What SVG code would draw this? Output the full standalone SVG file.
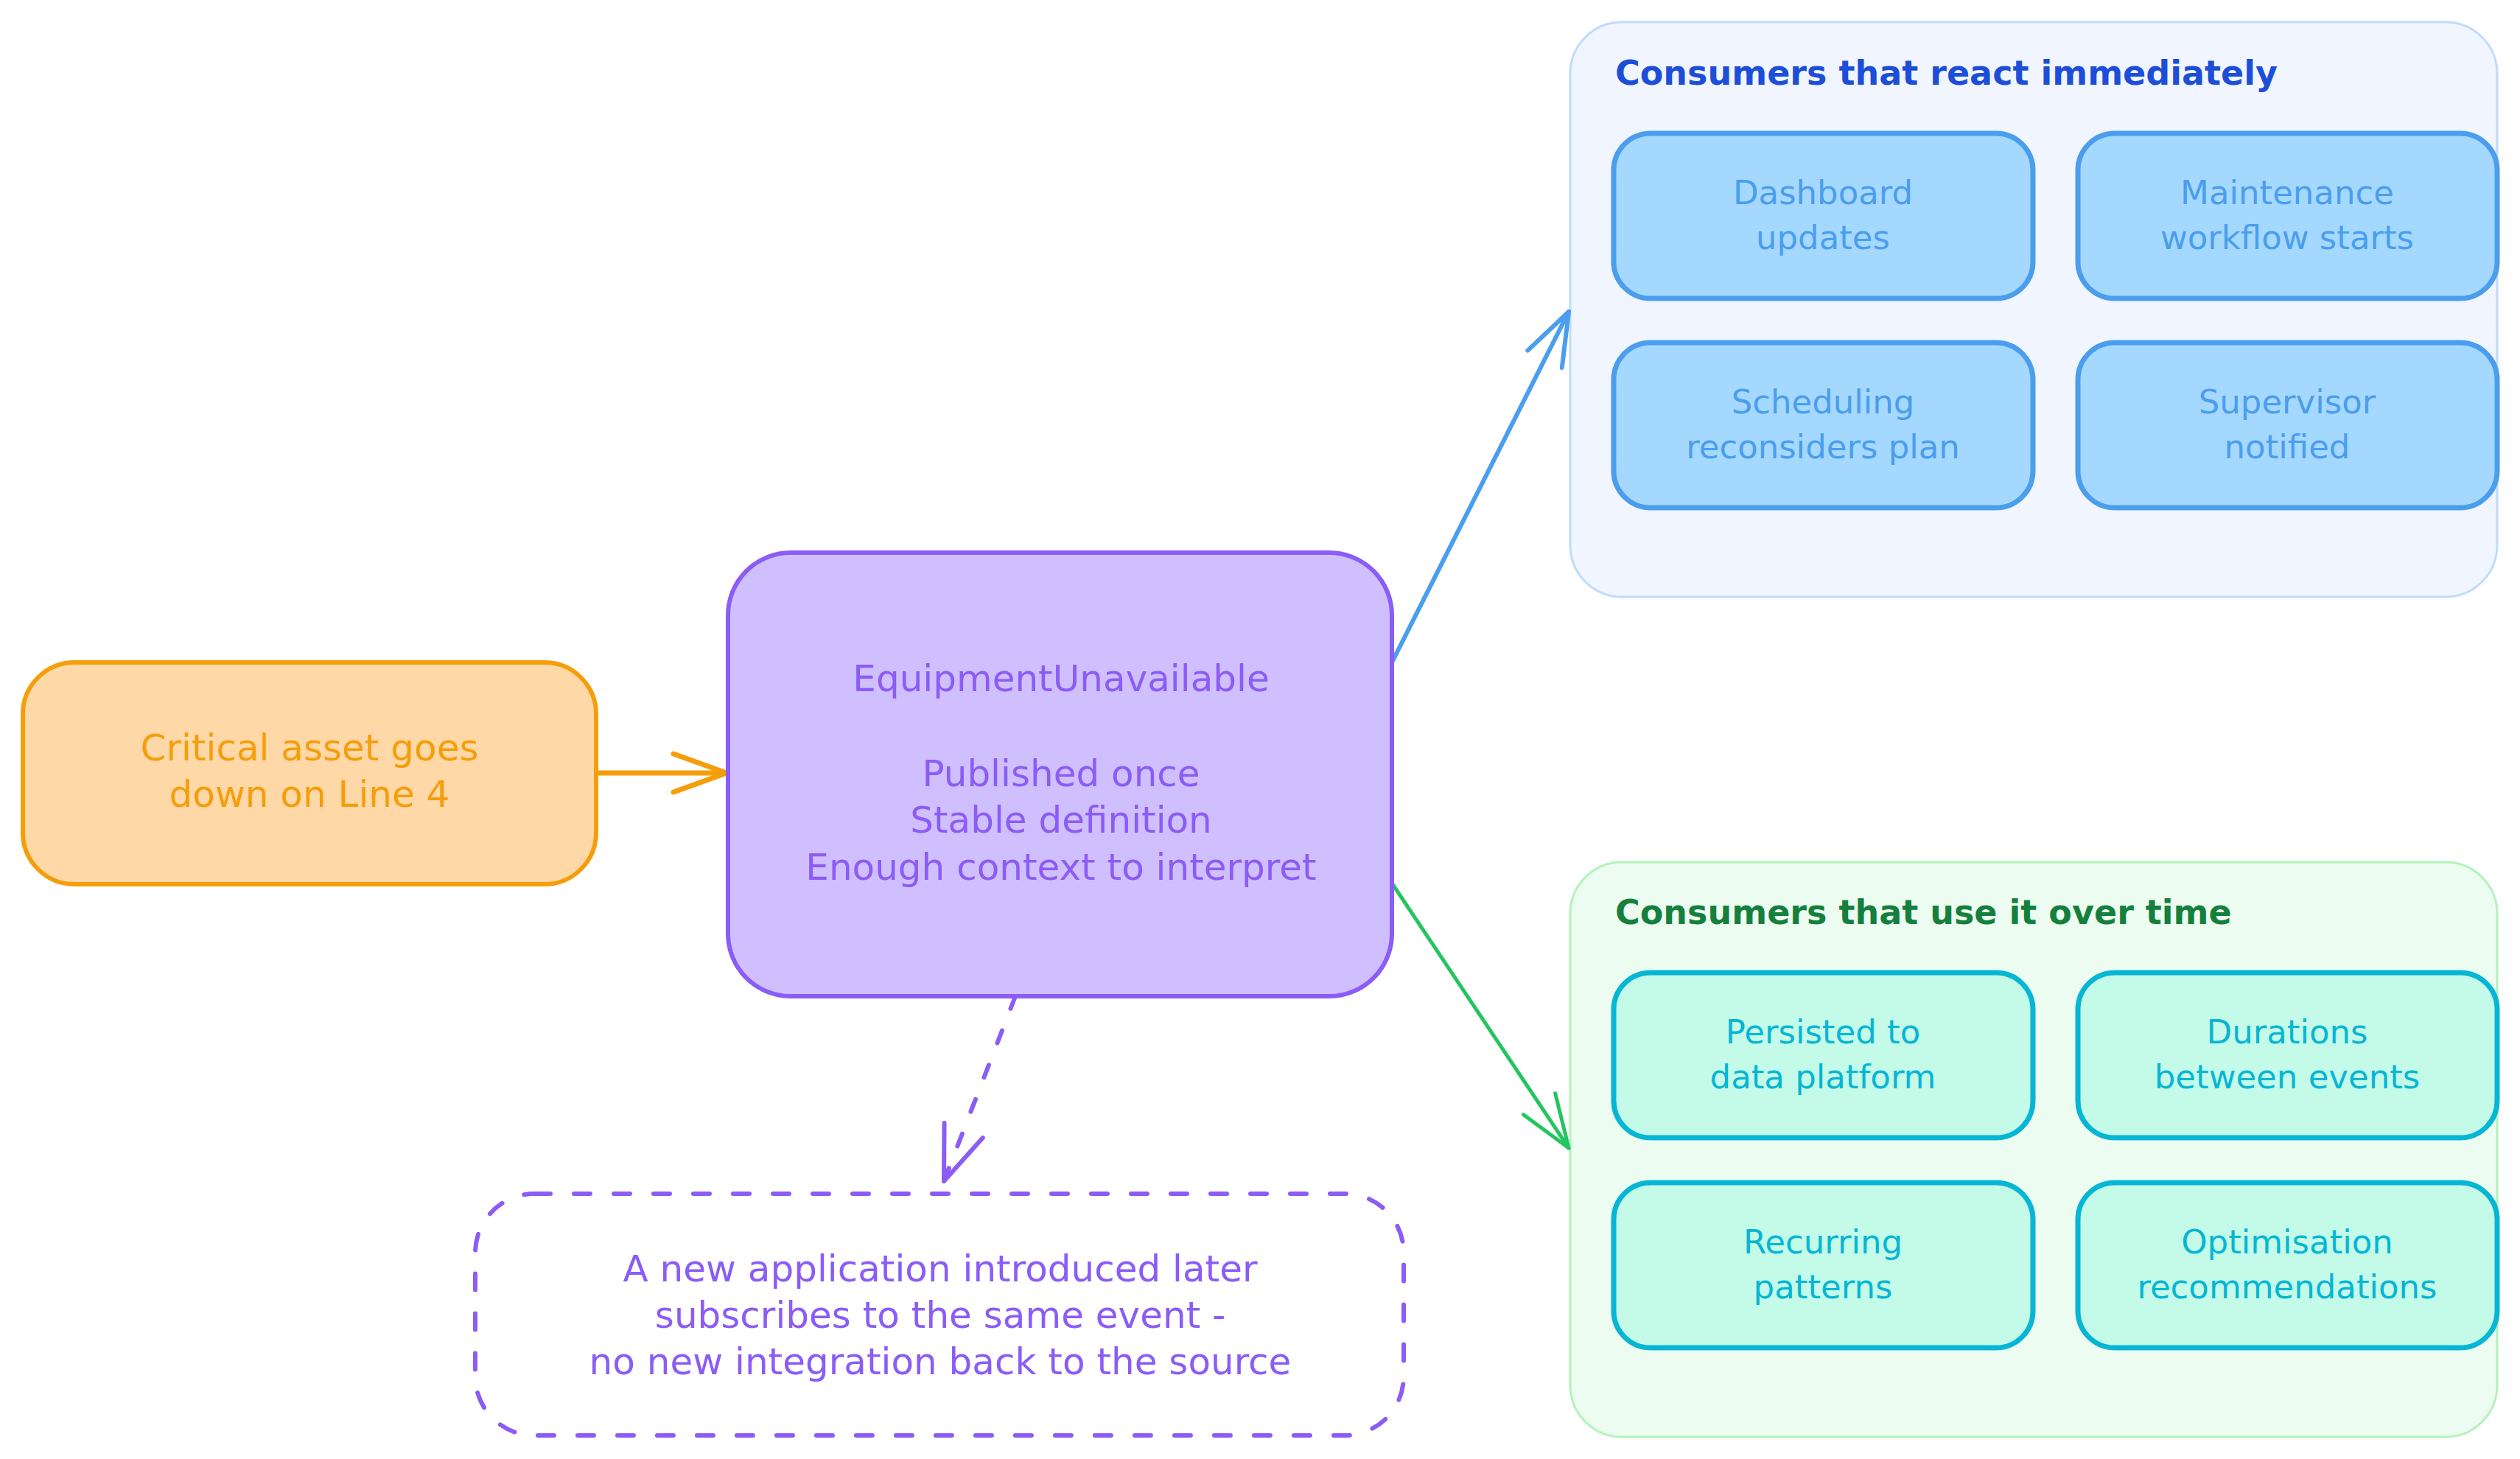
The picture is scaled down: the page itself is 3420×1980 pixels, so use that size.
<svg xmlns="http://www.w3.org/2000/svg" width="3420" height="1980" viewBox="0 0 3420 1980">
<style>
text{font-family:"DejaVu Sans","Liberation Sans",sans-serif;text-anchor:middle}
.t50{font-size:50px}
.t45{font-size:45px}
.hdr{font-size:46px;font-weight:bold;text-anchor:start}
.orange rect{fill:#ffd8a8;stroke:#f59e0b;stroke-width:6}
.orange text{fill:#f59e0b}
.purple rect{fill:#d0bfff;stroke:#8b5cf6;stroke-width:6}
.purple text{fill:#8b5cf6}
.dashed rect{fill:none;stroke:#8b5cf6;stroke-width:6;stroke-dasharray:22 32;stroke-linecap:round}
.dashed text{fill:#8b5cf6}
.bcont rect{fill:#f0f5ff;stroke:#bfdbfe;stroke-width:3}
.bcont text{fill:#1d4ed8}
.gcont rect{fill:#edfcf1;stroke:#b2f2bb;stroke-width:3}
.gcont text{fill:#15803d}
.bnode rect{fill:#a5d8ff;stroke:#4a9eed;stroke-width:7}
.bnode text{fill:#4a9eed}
.gnode rect{fill:#c3fae8;stroke:#06b6d4;stroke-width:7}
.gnode text{fill:#06b6d4}
.conn{fill:none;stroke-linecap:round}
</style>
<defs>
<marker id="ah-orange" markerUnits="userSpaceOnUse" viewBox="0 0 84 64" markerWidth="84" markerHeight="64" refX="78" refY="32" orient="auto"><path d="M 6 6 L 78 32 L 6 58" fill="none" stroke="#f59e0b" stroke-width="7" stroke-linecap="round" stroke-linejoin="round"/></marker>
<marker id="ah-blue" markerUnits="userSpaceOnUse" viewBox="0 0 84 64" markerWidth="84" markerHeight="64" refX="78" refY="32" orient="auto"><path d="M 6 6 L 78 32 L 6 58" fill="none" stroke="#4a9eed" stroke-width="6" stroke-linecap="round" stroke-linejoin="round"/></marker>
<marker id="ah-green" markerUnits="userSpaceOnUse" viewBox="0 0 84 64" markerWidth="84" markerHeight="64" refX="78" refY="32" orient="auto"><path d="M 6 6 L 78 32 L 6 58" fill="none" stroke="#22c55e" stroke-width="5" stroke-linecap="round" stroke-linejoin="round"/></marker>
<marker id="ah-purple" markerUnits="userSpaceOnUse" viewBox="0 0 84 64" markerWidth="84" markerHeight="64" refX="78" refY="32" orient="auto"><path d="M 4 4 L 78 32 L 4 60" fill="none" stroke="#8b5cf6" stroke-width="6" stroke-dasharray="none" stroke-linecap="round" stroke-linejoin="round"/></marker>
</defs>

<g id="container-immediate" class="bcont">
<rect x="2131" y="30" width="1258" height="780" rx="70"/>
<text class="hdr" x="2192" y="115">Consumers that react immediately</text>
</g>
<g id="container-overtime" class="gcont">
<rect x="2131" y="1170" width="1258" height="780" rx="70"/>
<text class="hdr" x="2192" y="1254">Consumers that use it over time</text>
</g>

<g id="connectors">
<path class="conn" d="M 809 1049 L 986 1049" stroke="#f59e0b" stroke-width="7" marker-end="url(#ah-orange)"/>
<path class="conn" d="M 1890 897 L 2129 423" stroke="#4a9eed" stroke-width="6" marker-end="url(#ah-blue)"/>
<path class="conn" d="M 1890 1200 L 2129 1558" stroke="#22c55e" stroke-width="5" marker-end="url(#ah-green)"/>
<path class="conn" d="M 1378 1352 L 1281 1603" stroke="#8b5cf6" stroke-width="6" stroke-dasharray="18 32" marker-end="url(#ah-purple)"/>
</g>

<g id="critical-asset" class="orange">
<rect x="31" y="899" width="778" height="301" rx="70"/>
<text class="t50" x="420" y="1032">Critical asset goes</text>
<text class="t50" x="420" y="1095">down on Line 4</text>
</g>

<g id="equipment-unavailable" class="purple">
<rect x="988" y="750" width="901" height="602" rx="85"/>
<text class="t50" x="1440" y="938">EquipmentUnavailable</text>
<text class="t50" x="1440" y="1067">Published once</text>
<text class="t50" x="1440" y="1130">Stable definition</text>
<text class="t50" x="1440" y="1194">Enough context to interpret</text>
</g>

<g id="new-application" class="dashed">
<rect x="645" y="1620" width="1260" height="328" rx="80"/>
<text class="t50" x="1276" y="1739">A new application introduced later</text>
<text class="t50" x="1276" y="1802">subscribes to the same event -</text>
<text class="t50" x="1276" y="1865">no new integration back to the source</text>
</g>

<g id="dashboard-updates" class="bnode">
<rect x="2190" y="181" width="569" height="224" rx="50"/>
<text class="t45" x="2474" y="277">Dashboard</text>
<text class="t45" x="2474" y="338">updates</text>
</g>
<g id="maintenance-workflow" class="bnode">
<rect x="2820" y="181" width="569" height="224" rx="50"/>
<text class="t45" x="3104" y="277">Maintenance</text>
<text class="t45" x="3104" y="338">workflow starts</text>
</g>
<g id="scheduling" class="bnode">
<rect x="2190" y="465" width="569" height="224" rx="50"/>
<text class="t45" x="2474" y="561">Scheduling</text>
<text class="t45" x="2474" y="622">reconsiders plan</text>
</g>
<g id="supervisor" class="bnode">
<rect x="2820" y="465" width="569" height="224" rx="50"/>
<text class="t45" x="3104" y="561">Supervisor</text>
<text class="t45" x="3104" y="622">notified</text>
</g>

<g id="persisted" class="gnode">
<rect x="2190" y="1320" width="569" height="224" rx="50"/>
<text class="t45" x="2474" y="1416">Persisted to</text>
<text class="t45" x="2474" y="1477">data platform</text>
</g>
<g id="durations" class="gnode">
<rect x="2820" y="1320" width="569" height="224" rx="50"/>
<text class="t45" x="3104" y="1416">Durations</text>
<text class="t45" x="3104" y="1477">between events</text>
</g>
<g id="recurring" class="gnode">
<rect x="2190" y="1605" width="569" height="224" rx="50"/>
<text class="t45" x="2474" y="1701">Recurring</text>
<text class="t45" x="2474" y="1762">patterns</text>
</g>
<g id="optimisation" class="gnode">
<rect x="2820" y="1605" width="569" height="224" rx="50"/>
<text class="t45" x="3104" y="1701">Optimisation</text>
<text class="t45" x="3104" y="1762">recommendations</text>
</g>
</svg>
